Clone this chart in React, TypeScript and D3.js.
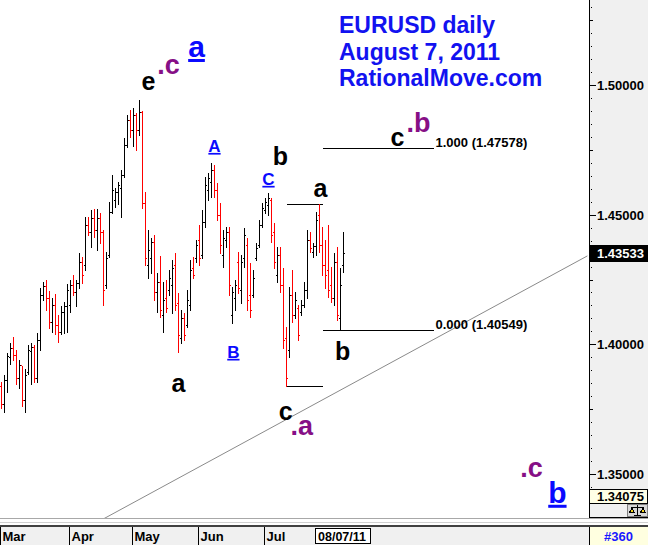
import React from "react";
import * as d3 from "d3";

// Daily EURUSD bars, 1 Mar 2011 onwards (one entry per trading day)
const opens = [
  1.384, 1.3771, 1.3863, 1.3951, 1.3987, 1.3959, 1.3871, 1.3921, 1.3786, 1.3894,
  1.3975, 1.399, 1.3871, 1.4017, 1.4191, 1.4225, 1.4179, 1.4086, 1.4152, 1.4075,
  1.4048, 1.4125, 1.4148, 1.4152, 1.4229, 1.4202, 1.4237, 1.4318, 1.4306, 1.446,
  1.4433, 1.4487, 1.4441, 1.4487, 1.4433, 1.4229, 1.4345, 1.451, 1.4557, 1.4587,
  1.4603, 1.4653, 1.4769, 1.4865, 1.4827, 1.4884, 1.4827, 1.4896, 1.4545, 1.4306,
  1.4333, 1.4395, 1.4202, 1.424, 1.4114, 1.4179, 1.421, 1.4229, 1.4306, 1.416,
  1.4025, 1.4102, 1.4075, 1.4152, 1.4295, 1.4333, 1.4403, 1.4345, 1.4472, 1.4595,
  1.4626, 1.4672, 1.4595, 1.4499, 1.4345, 1.4403, 1.4433, 1.4114, 1.4179, 1.4318,
  1.421, 1.4333, 1.4383, 1.4191, 1.4191, 1.4333, 1.4383, 1.446, 1.4518, 1.4538,
  1.4557, 1.4433, 1.4268, 1.4345, 1.4229, 1.4025, 1.3979, 1.4191, 1.4114, 1.414,
  1.4125, 1.4152, 1.421, 1.4403, 1.4356, 1.4379, 1.4499, 1.4383, 1.4306, 1.4287,
  1.4229, 1.4179, 1.4318, 1.4102, 1.4306,
];
const highs = [
  1.3855, 1.3882, 1.3967, 1.4006, 1.4029, 1.3979, 1.394, 1.3917, 1.3906, 1.3998,
  1.4006, 1.3998, 1.4045, 1.4217, 1.424, 1.4248, 1.4206, 1.4179, 1.4195, 1.4114,
  1.4148, 1.4163, 1.4233, 1.4248, 1.4268, 1.4248, 1.4352, 1.4337, 1.4491, 1.4491,
  1.4518, 1.4522, 1.4522, 1.4507, 1.4441, 1.4356, 1.4549, 1.4653, 1.4603, 1.4626,
  1.4672, 1.4796, 1.4884, 1.4904, 1.4912, 1.4892, 1.4942, 1.49, 1.4587, 1.4441,
  1.441, 1.4422, 1.4275, 1.4341, 1.424, 1.4248, 1.4287, 1.4326, 1.4352, 1.4198,
  1.4133, 1.4121, 1.421, 1.4326, 1.4337, 1.4403, 1.446, 1.4518, 1.4645, 1.4661,
  1.4699, 1.4692, 1.4622, 1.4545, 1.4441, 1.4453, 1.4453, 1.4221, 1.4248, 1.4356,
  1.4345, 1.4449, 1.441, 1.4314, 1.4287, 1.4391, 1.448, 1.4545, 1.4565, 1.4584,
  1.4565, 1.4468, 1.4375, 1.4375, 1.4295, 1.4067, 1.4221, 1.4287, 1.4202, 1.4152,
  1.4171, 1.424, 1.4441, 1.4433, 1.4391, 1.451, 1.4541, 1.4453, 1.4403, 1.446,
  1.4298, 1.4352, 1.4375, 1.4295, 1.4433,
];
const lows = [
  1.3755, 1.374, 1.3817, 1.3925, 1.394, 1.3848, 1.3832, 1.3763, 1.374, 1.3886,
  1.3848, 1.3855, 1.3855, 1.3979, 1.4171, 1.4133, 1.4063, 1.4048, 1.4041, 1.4009,
  1.4041, 1.4045, 1.4048, 1.4125, 1.4191, 1.4148, 1.4217, 1.4237, 1.4287, 1.4422,
  1.4375, 1.4414, 1.4364, 1.4391, 1.4152, 1.4217, 1.4337, 1.4507, 1.453, 1.4542,
  1.4491, 1.4645, 1.4761, 1.4799, 1.4765, 1.4749, 1.4807, 1.4526, 1.4306, 1.4256,
  1.4275, 1.4171, 1.4125, 1.4106, 1.4048, 1.4125, 1.4191, 1.4121, 1.4133, 1.3971,
  1.4006, 1.4017, 1.4067, 1.4133, 1.4256, 1.4318, 1.4306, 1.4333, 1.4453, 1.4557,
  1.4568, 1.4568, 1.448, 1.4352, 1.4298, 1.4375, 1.4191, 1.4083, 1.4133, 1.4198,
  1.416, 1.4298, 1.4133, 1.4106, 1.4183, 1.4326, 1.4375, 1.4453, 1.4507, 1.4499,
  1.4395, 1.4295, 1.424, 1.4202, 1.3986, 1.3838, 1.3952, 1.4086, 1.4102, 1.4017,
  1.4114, 1.4144, 1.4179, 1.4356, 1.4337, 1.4345, 1.4356, 1.4268, 1.4217, 1.4183,
  1.4163, 1.4152, 1.4094, 1.40549, 1.4279,
];
const closes = [
  1.3771, 1.3863, 1.3955, 1.3987, 1.3959, 1.3871, 1.3921, 1.3786, 1.3882, 1.3979,
  1.399, 1.3871, 1.4017, 1.4191, 1.4225, 1.4179, 1.4086, 1.4152, 1.4075, 1.4048,
  1.4125, 1.4148, 1.421, 1.4229, 1.4202, 1.4237, 1.4318, 1.4268, 1.446, 1.4433,
  1.4487, 1.4441, 1.4487, 1.4433, 1.421, 1.4333, 1.451, 1.4595, 1.4587, 1.4615,
  1.4653, 1.4769, 1.4865, 1.4827, 1.4884, 1.4827, 1.4896, 1.4545, 1.4333, 1.4364,
  1.4395, 1.4202, 1.424, 1.4133, 1.4171, 1.414, 1.4256, 1.4295, 1.4152, 1.4037,
  1.4102, 1.4037, 1.4171, 1.4287, 1.4268, 1.4383, 1.4333, 1.4472, 1.4615, 1.4642,
  1.4672, 1.4595, 1.4499, 1.4383, 1.441, 1.4433, 1.4229, 1.4202, 1.4229, 1.4217,
  1.4318, 1.4422, 1.4171, 1.4133, 1.4256, 1.4372, 1.446, 1.4526, 1.4549, 1.4565,
  1.4422, 1.4318, 1.4345, 1.4229, 1.4017, 1.3871, 1.4191, 1.4114, 1.4171, 1.4037,
  1.4152, 1.421, 1.4403, 1.4372, 1.4379, 1.448, 1.4383, 1.4306, 1.4268, 1.421,
  1.4179, 1.4318, 1.4114, 1.4229, 1.43533,
];

// Month boundaries on the time axis (bar index of the first trading day)
const monthStarts = [0, 23, 44, 66, 88];
const monthLabels = ["Mar", "Apr", "May", "Jun", "Jul"];
const cursorDate = "08/07/11";
const barCountLabel = "#360";

const lastPrice = 1.43533;
const bottomPrice = 1.34075;

const titleLines = ["EURUSD daily", "August 7, 2011", "RationalMove.com"];

// Fibonacci projection levels
const fibRatios = ["1.000", "0.000"];
const fibPrices = [1.47578, 1.40549];
const fibFrom = 107.5;
const fibTo = 144.5;

// Swing high / low marker segments: [fromIndex, toIndex, price]
const swingMarks: [number, number, number][] = [
  [95.5, 107.8, 1.4541],
  [95.2, 107.8, 1.3838],
];

// Long-term support trendline anchors: [index, price]
const trendAnchors: [number, number][] = [
  [34.5, 1.3327],
  [195.8, 1.4341],
];

// Elliott wave labels: text, bar index, price, degree
const waveText = ["e", ".c", "a", "A", "B", "C", "b", "a", "c", ".b", "b", "a", "c", ".a", ".c", "b"];
const waveIndex = [49.5, 56.2, 65.5, 71.5, 77.8, 89.5, 93.5, 106.8, 132.5, 139.5, 114.2, 59.5, 95.2, 100.6, 177.2, 185.8];
const wavePrice = [1.4981, 1.5042, 1.5108, 1.4742, 1.3948, 1.4615, 1.4692, 1.4568, 1.4765, 1.4819, 1.394, 1.3817, 1.3709, 1.3651, 1.3489, 1.3389];
const waveDegree = ["minor", "inter", "major", "minute", "minute", "minute", "minor", "minor", "minor", "inter", "minor", "minor", "minor", "inter", "inter", "major"];

const W = 648;
const H = 545;
const plotRight = 589;
const plotBottom = 518;
const FONT = "'Liberation Sans', Arial, Helvetica, sans-serif";

const degreeStyle: Record<string, { fill: string; size: number; underline: boolean }> = {
  minor: { fill: "#000000", size: 25, underline: false },
  inter: { fill: "#860f86", size: 27, underline: false },
  major: { fill: "#0a0aff", size: 30, underline: true },
  minute: { fill: "#0a0aff", size: 17, underline: true },
};

export default function App() {
  const x = d3.scaleLinear().domain([0, 115]).range([0, 345]);
  const y = d3.scaleLinear().domain([1.35, 1.5]).range([474, 85]);
  const fmt = d3.format(".5f");
  const r = (v: number) => Math.round(v);

  const bars = opens.map((o, i) => {
    const cx = x(i + 0.5);
    const top = r(y(highs[i]));
    const bot = r(y(lows[i]));
    const up = closes[i] >= o;
    const col = up ? "#000000" : "#ff0000";
    return (
      <g key={i} fill={col}>
        <rect x={cx - 0.5} y={top} width={1} height={bot - top + 1} />
        <rect x={cx - 1.5} y={r(y(o))} width={1} height={1} />
        <rect x={cx + 0.5} y={r(y(closes[i]))} width={1} height={1} />
      </g>
    );
  });

  const trendLine = d3.line<[number, number]>()
    .x((d) => x(d[0]))
    .y((d) => y(d[1]))(trendAnchors) as string;

  // Right price axis marks every 0.005
  const axisMarks = d3.range(267, 307).map((k) => {
    const p = k * 0.005;
    const yy = r(y(p)) + 0.5;
    if (yy < 2 || yy > plotBottom - 2) return null;
    if (k % 10 === 0) {
      return (
        <g key={k}>
          <line x1={plotRight} x2={plotRight + 7} y1={yy} y2={yy} stroke="#000" />
          <text x={plotRight + 8} y={yy + 4.5} fontSize={13} fontWeight="bold" fill="#000">
            {fmt(p)}
          </text>
        </g>
      );
    }
    if (k % 5 === 0) {
      return <line key={k} x1={plotRight} x2={plotRight + 4} y1={yy} y2={yy} stroke="#000" />;
    }
    return <rect key={k} x={plotRight + 2} y={yy - 0.5} width={1} height={1} fill="#000" />;
  });

  const lastY = y(lastPrice);
  const cursorX = x(opens.length - 0.5) - 2;

  return (
    <svg
      width={W}
      height={H}
      style={{ position: "absolute", left: 0, top: 0, fontFamily: FONT }}
      shapeRendering="crispEdges"
    >
      <defs>
        <clipPath id="plotClip">
          <rect x={0} y={0} width={plotRight} height={plotBottom} />
        </clipPath>
      </defs>
      <rect x={0} y={0} width={W} height={H} fill="#ffffff" />

      {/* title */}
      <g fill="#1212f0" fontSize={23} fontWeight="bold">
        {titleLines.map((t, i) => (
          <text key={t} x={339} y={33 + i * 26.5}>{t}</text>
        ))}
      </g>

      {/* trendline */}
      <g clipPath="url(#plotClip)">
        <path d={trendLine} stroke="#8a8a8a" strokeWidth={1} fill="none" shapeRendering="auto" />
      </g>

      {/* fib levels */}
      {fibPrices.map((p, i) => {
        const yy = r(y(p)) + 0.5;
        return (
          <g key={i}>
            <line x1={x(fibFrom)} x2={x(fibTo)} y1={yy} y2={yy} stroke="#000" strokeWidth={1} />
            <text x={x(fibTo) + 2} y={yy - 2} fontSize={13} fontWeight="bold" fill="#000">
              {`${fibRatios[i]} (${fmt(p)})`}
            </text>
          </g>
        );
      })}

      {swingMarks.map(([a, b, p], i) => {
        const yy = r(y(p)) + 0.5;
        return <line key={i} x1={x(a)} x2={x(b)} y1={yy} y2={yy} stroke="#000" />;
      })}

      {/* price bars */}
      <g>{bars}</g>

      {/* wave labels */}
      <g fontWeight="bold" textAnchor="middle">
        {waveText.map((t, i) => {
          const s = degreeStyle[waveDegree[i]];
          return (
            <text
              key={i}
              x={x(waveIndex[i])}
              y={y(wavePrice[i])}
              fill={s.fill}
              fontSize={s.size}
              style={{ textDecoration: s.underline ? "underline" : "none" }}
              shapeRendering="auto"
            >
              {t}
            </text>
          );
        })}
      </g>

      {/* right axis panel */}
      <rect x={plotRight} y={0} width={W - plotRight} height={plotBottom} fill="#f0f0f0" />
      <line x1={plotRight + 0.5} x2={plotRight + 0.5} y1={0} y2={plotBottom} stroke="#000" />
      {axisMarks}

      {/* last price marker */}
      <rect x={plotRight} y={r(lastY) - 8} width={W - plotRight} height={17} fill="#000" />
      <text x={plotRight + 8} y={r(lastY) + 5} fontSize={13} fontWeight="bold" fill="#fff">
        {fmt(lastPrice)}
      </text>

      {/* bottom price of the visible range */}
      <rect x={plotRight + 0.5} y={489.5} width={W - plotRight - 1} height={14} fill="#ffffe6" stroke="#000" />
      <text x={plotRight + 8} y={501} fontSize={13} fontWeight="bold" fill="#000">
        {fmt(bottomPrice)}
      </text>
      <rect x={plotRight + 0.5} y={503.5} width={W - plotRight - 1} height={14} fill="#f0f0f0" stroke="#000" />
      <rect x={627.5} y={504.5} width={20} height={12} fill="#d8d8d8" stroke="#808080" />
      <g stroke="#000" fill="#f2d21a">
        <line x1={637.5} x2={637.5} y1={505} y2={516} />
        <line x1={631} x2={644} y1={507.5} y2={507.5} />
        <path d="M629.5 512.5 L632 508 L634.5 512.5 Z" />
        <path d="M640.5 512.5 L643 508 L645.5 512.5 Z" />
        <line x1={634} x2={641} y1={515.5} y2={515.5} />
      </g>

      {/* bottom frame */}
      <line x1={0} x2={W} y1={plotBottom + 0.5} y2={plotBottom + 0.5} stroke="#a8a8a8" />
      <line x1={0} x2={W} y1={522.5} y2={522.5} stroke="#d0d0d0" />
      <rect x={0} y={526} width={W} height={H - 526} fill="#f0f0f0" />
      <rect x={0} y={525} width={W} height={2} fill="#404040" />

      {/* time axis */}
      {monthStarts.map((s, i) => {
        const xx = r(x(s)) + 0.5;
        return (
          <g key={s}>
            <line x1={xx} x2={xx} y1={527} y2={H} stroke="#000" />
            <text x={xx + 2} y={541} fontSize={13} fontWeight="bold" fill="#000">
              {monthLabels[i]}
            </text>
          </g>
        );
      })}
      <rect x={r(cursorX - 27) + 0.5} y={528.5} width={55} height={15} fill="#fff" stroke="#000" />
      <text x={cursorX + 0.5} y={541} fontSize={12.5} fontWeight="bold" fill="#000" textAnchor="middle">
        {cursorDate}
      </text>
      <rect x={plotRight} y={527} width={W - plotRight} height={H - 527} fill="#ffffe0" />
      <line x1={plotRight + 0.5} x2={plotRight + 0.5} y1={527} y2={H} stroke="#000" />
      <text x={(plotRight + W) / 2} y={541} fontSize={13} fontWeight="bold" fill="#1a1aff" textAnchor="middle">
        {barCountLabel}
      </text>
    </svg>
  );
}
